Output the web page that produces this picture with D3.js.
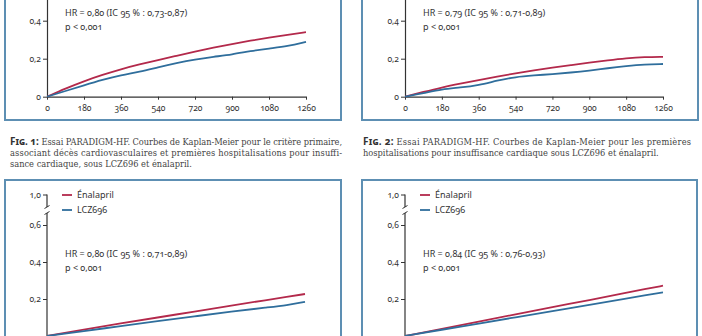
<!DOCTYPE html>
<html>
<head>
<meta charset="utf-8">
<script src="https://cdn.jsdelivr.net/npm/d3@7"></script>
<style>
  html, body { margin: 0; padding: 0; background: #fff; }
  svg { display: block; }
  .lbl { font-family: "Noto Sans", "Open Sans", sans-serif; font-variant-numeric: oldstyle-nums; fill: #333; }
  .cap { font-family: "DejaVu Serif Condensed", "Liberation Serif", serif; fill: #444; }
  .capfig { font-family: "Noto Sans", sans-serif; font-weight: bold; font-variant: small-caps; fill: #333; font-variant-numeric: oldstyle-nums; }
</style>
</head>
<body>
<svg id="chart" width="702" height="336"></svg>
<script>
// ---------- DATA ----------
const days = [0, 90, 180, 270, 360, 450, 540, 630, 720, 810, 900, 990, 1080, 1170, 1260];
const fig1Enalapril = [0, 0.043, 0.082, 0.115, 0.145, 0.170, 0.193, 0.215, 0.237, 0.258, 0.277, 0.295, 0.311, 0.326, 0.340];
const fig1LCZ696    = [0, 0.030, 0.060, 0.089, 0.114, 0.131, 0.155, 0.177, 0.196, 0.210, 0.222, 0.240, 0.254, 0.265, 0.289];
const fig2Enalapril = [0, 0.025, 0.049, 0.069, 0.088, 0.106, 0.123, 0.138, 0.153, 0.166, 0.179, 0.191, 0.202, 0.209, 0.210];
const fig2LCZ696    = [0, 0.018, 0.039, 0.048, 0.061, 0.085, 0.104, 0.112, 0.119, 0.127, 0.137, 0.150, 0.161, 0.170, 0.172];
const days2 = [0, 180, 360, 540, 720, 900, 1080, 1170, 1260];
const fig3Enalapril = [0, 0.035, 0.068, 0.100, 0.132, 0.164, 0.196, 0.211, 0.227];
const fig3LCZ696    = [0, 0.027, 0.053, 0.080, 0.106, 0.132, 0.155, 0.166, 0.185];
const fig4Enalapril = [0, 0.039, 0.078, 0.117, 0.156, 0.194, 0.233, 0.253, 0.272];
const fig4LCZ696    = [0, 0.034, 0.067, 0.101, 0.135, 0.168, 0.202, 0.219, 0.236];
const xTicks = [0, 180, 360, 540, 720, 900, 1080, 1260];
const yTicksTop = [0, 0.2, 0.4];
const yTicksBottom = [0.2, 0.4, 0.6, 1.0];
const seriesNames = ["Énalapril", "LCZ696"];
const hrTexts = ["HR = 0,80 (IC 95 % : 0,73-0,87)", "HR = 0,79 (IC 95 % : 0,71-0,89)",
                 "HR = 0,80 (IC 95 % : 0,71-0,89)", "HR = 0,84 (IC 95 % : 0,76-0,93)"];
const pText = "p < 0,001";
const caption1 = ["Essai PARADIGM-HF. Courbes de Kaplan-Meier pour le critère primaire,",
                  "associant décès cardiovasculaires et premières hospitalisations pour insuffi-",
                  "sance cardiaque, sous LCZ696 et énalapril."];
const caption2 = ["Essai PARADIGM-HF. Courbes de Kaplan-Meier pour les premières",
                  "hospitalisations pour insuffisance cardiaque sous LCZ696 et énalapril."];

// ---------- STYLE ----------
const RED = "#b3294b", BLUE = "#2f6e9c", BORDER = "#5d8fb3";
const svg = d3.select("#chart");
svg.append("rect").attr("width", 702).attr("height", 336).attr("fill", "#fff");

const fmt = d => d === 0 ? "0" : d3.format(".1f")(d).replace(".", ",");

// boxes
const boxes = [
  {x: 5, y: -10, w: 336, h: 130},
  {x: 362, y: -10, w: 336, h: 130},
  {x: 5, y: 180, w: 336, h: 170},
  {x: 362, y: 180, w: 335, h: 170}
];
svg.selectAll("rect.box").data(boxes).join("rect").attr("class", "box")
  .attr("x", d => d.x).attr("y", d => d.y).attr("width", d => d.w).attr("height", d => d.h)
  .attr("fill", "none").attr("stroke", BORDER).attr("stroke-width", 2);

const panels = [
  {x0: 47, x1: 306, top: true, days: days, red: fig1Enalapril, blue: fig1LCZ696, hr: hrTexts[0], tx: 65},
  {x0: 405, x1: 663, top: true, days: days, red: fig2Enalapril, blue: fig2LCZ696, hr: hrTexts[1], tx: 423},
  {x0: 47, x1: 305, top: false, days: days2, red: fig3Enalapril, blue: fig3LCZ696, hr: hrTexts[2], tx: 65},
  {x0: 405, x1: 663, top: false, days: days2, red: fig4Enalapril, blue: fig4LCZ696, hr: hrTexts[3], tx: 423}
];

panels.forEach(p => {
  const g = svg.append("g");
  const x = d3.scaleLinear().domain([0, 1260]).range([p.x0, p.x1]);
  let y;
  if (p.top) {
    y = d3.scaleLinear().domain([0, 0.6]).range([96.7, -17.3]);
  } else {
    y = d3.scaleLinear().domain([0, 0.6, 1.0]).range([336, 225, 194.5]);
  }

  // y axis
  const ya = g.append("g").attr("class", "lbl").attr("transform", `translate(${p.x0},0)`)
    .call(d3.axisLeft(y).tickValues(p.top ? yTicksTop : yTicksBottom).tickFormat(fmt)
      .tickSize(4).tickSizeOuter(0).tickPadding(2));
  ya.selectAll("text").attr("font-size", 8.5).attr("fill", "#333").attr("font-family", null);
  ya.selectAll("line").attr("stroke", "#333").attr("stroke-width", 1);
  ya.select(".domain").attr("stroke", "#333").attr("stroke-width", 1.2);

  if (!p.top) {
    // axis break
    ya.select(".domain").remove();
    const bTop = y(1.0), bBot = y(0.6) - 12, bMid = y(0.6) - 15;
    ya.append("line").attr("x1", 0).attr("x2", 0).attr("y1", y(0) + 2).attr("y2", bBot).attr("stroke", "#333").attr("stroke-width", 1.2);
    ya.append("line").attr("x1", 0).attr("x2", 0).attr("y1", bMid - 3).attr("y2", bTop).attr("stroke", "#333").attr("stroke-width", 1.2);
    [bBot, bMid - 3].forEach(by => {
      ya.append("line").attr("x1", -2.5).attr("x2", 2.5).attr("y1", by + 1.5).attr("y2", by - 1.5)
        .attr("stroke", "#333").attr("stroke-width", 1);
    });
  }

  if (p.top) {
    const xa = g.append("g").attr("class", "lbl").attr("transform", `translate(0,${y(0)})`)
      .call(d3.axisBottom(x).tickValues(xTicks).tickFormat(d3.format("d")).tickSize(3).tickSizeOuter(0).tickPadding(5));
    xa.selectAll("text").attr("font-size", 8.5).attr("fill", "#333").attr("font-family", null);
    xa.selectAll("line").attr("stroke", "#333");
    xa.select(".domain").attr("stroke", "#333").attr("stroke-width", 1.2);
  }

  const line = d3.line().x((d, i) => x(p.days[i])).y(d => y(d)).curve(d3.curveBasis);
  const clipId = "clip" + p.x0 + (p.top ? "t" : "b");
  g.append("clipPath").attr("id", clipId).append("rect")
    .attr("x", p.x0).attr("y", p.top ? 0 : 181).attr("width", 300).attr("height", p.top ? 97.5 : 155);
  g.append("path").datum(p.red).attr("d", line).attr("fill", "none").attr("stroke", RED).attr("stroke-width", 1.8)
    .attr("clip-path", `url(#${clipId})`);
  g.append("path").datum(p.blue).attr("d", line).attr("fill", "none").attr("stroke", BLUE).attr("stroke-width", 1.8)
    .attr("clip-path", `url(#${clipId})`);

  // HR text
  const hy = p.top ? 16 : 257;
  g.append("text").attr("class", "lbl").attr("x", p.tx).attr("y", hy).attr("font-size", 9).text(p.hr);
  g.append("text").attr("class", "lbl").attr("x", p.tx).attr("y", hy + 14).attr("font-size", 9).text(pText);

  // legend for bottom panels
  if (!p.top) {
    const lx = p.x0 + 15;
    [RED, BLUE].forEach((c, i) => {
      const ly = 195 + i * 15;
      g.append("line").attr("x1", lx).attr("x2", lx + 10).attr("y1", ly).attr("y2", ly)
        .attr("stroke", c).attr("stroke-width", 1.8);
      g.append("text").attr("class", "lbl").attr("x", lx + 15).attr("y", ly + 3.2)
        .attr("font-size", 9).text(seriesNames[i]);
    });
  }
});

// captions
function caption(x, width, figLabel, lines) {
  lines.forEach((ln, i) => {
    const t = svg.append("text").attr("class", "cap").attr("x", x).attr("y", 145 + i * 11).attr("font-size", 9.2);
    if (i === 0) {
      t.append("tspan").attr("class", "capfig").attr("font-size", 10).text(figLabel + " ");
    }
    t.append("tspan").text(ln);
    if (i < lines.length - 1) t.attr("textLength", width).attr("lengthAdjust", "spacing");
  });
}
caption(10, 332, "Fig. 1:", caption1);
caption(363, 328, "Fig. 2:", caption2);
</script>
</body>
</html>
